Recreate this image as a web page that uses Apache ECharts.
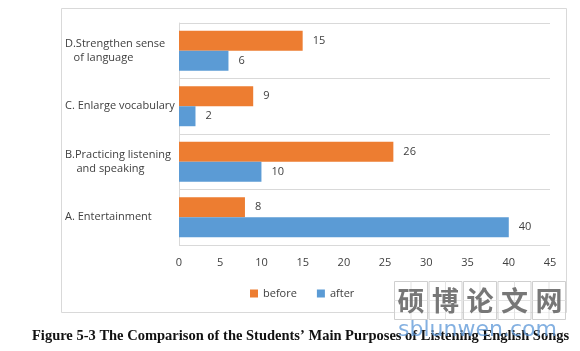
<!DOCTYPE html>
<html>
<head>
<meta charset="utf-8">
<script src="https://cdn.jsdelivr.net/npm/echarts@6/dist/echarts.min.js"></script>
<style>
  html, body { margin: 0; padding: 0; background: #fff; }
  #chart { width: 580px; height: 351px; }
</style>
</head>
<body>
<div id="chart"></div>
<script>
// categories from bottom to top
const categories = [
  'A. Entertainment',
  'B.Practicing listening\n    and speaking',
  'C. Enlarge vocabulary',
  'D.Strengthen sense\n   of language',
];
const beforeValues = [8, 26, 9, 15];
const afterValues = [40, 10, 2, 6];
const caption = 'Figure 5-3 The Comparison of the Students\u2019 Main Purposes of Listening English Songs';
const watermarkChars = ['硕', '博', '论', '文', '网'];

const labelFont = { fontFamily: 'Open Sans', fontSize: 11, color: '#404040' };

const chart = echarts.init(document.getElementById('chart'));

const wmGraphics = watermarkChars.map((ch, i) => ({
  type: 'group',
  left: 392 + i * 34.5,
  top: 279,
  z: 100,
  children: [
    { type: 'rect', shape: { x: 0, y: 0, width: 33, height: 38 }, style: { fill: 'rgba(255,255,255,0.6)', stroke: '#cfcfcf', lineWidth: 1 } },
    { type: 'line', shape: { x1: 16.5, y1: 0, x2: 16.5, y2: 38 }, style: { stroke: '#e3e3e3', lineWidth: 1 } },
    { type: 'line', shape: { x1: 0, y1: 19, x2: 33, y2: 19 }, style: { stroke: '#e3e3e3', lineWidth: 1 } },
    { type: 'text', style: { x: 16.5, y: 19, text: ch, fill: '#777', font: 'bold 27px "Noto Sans CJK SC"', align: 'center', verticalAlign: 'middle' } },
  ],
}));

const option = {
  animation: false,
  backgroundColor: '#fff',
  grid: { left: 179, right: 30, top: 23, bottom: 106 },
  legend: {
    data: ['before', 'after'],
    left: 245,
    top: 283,
    itemWidth: 8,
    itemHeight: 8,
    itemGap: 20,
    icon: 'rect',
    textStyle: labelFont,
  },
  xAxis: {
    type: 'value',
    min: 0,
    max: 45,
    interval: 5,
    axisLine: { show: false },
    axisTick: { show: false },
    splitLine: { show: false },
    axisLabel: Object.assign({ margin: 12 }, labelFont),
  },
  yAxis: {
    type: 'category',
    data: categories,
    axisLine: { show: true, lineStyle: { color: '#d9d9d9' } },
    axisTick: { show: false },
    splitLine: { show: true, lineStyle: { color: '#d9d9d9' } },
    axisLabel: Object.assign({ align: 'left', margin: 114, lineHeight: 14 }, labelFont),
  },
  series: [
    {
      name: 'before',
      type: 'bar',
      data: beforeValues,
      barCategoryGap: '28%',
      barGap: '0%',
      itemStyle: { color: '#ED7D31' },
      label: Object.assign({ show: true, position: 'right', distance: 10 }, labelFont),
    },
    {
      name: 'after',
      type: 'bar',
      data: afterValues,
      barCategoryGap: '28%',
      barGap: '0%',
      itemStyle: { color: '#5B9BD5' },
      label: Object.assign({ show: true, position: 'right', distance: 10 }, labelFont),
    },
  ],
  graphic: [
    {
      type: 'rect',
      left: 59,
      top: 6,
      z: -10,
      shape: { x: 0, y: 0, width: 505, height: 304 },
      style: { fill: 'none', stroke: '#d9d9d9', lineWidth: 1 },
    },
    {
      type: 'text',
      left: 32,
      top: 329,
      style: { text: caption, fill: '#111', font: 'bold 14.5px "Liberation Serif"' },
    },
  ].concat(wmGraphics, [
    {
      type: 'text',
      left: 398,
      top: 319,
      z: 101,
      style: { text: 'sblunwen.com', fill: 'rgba(90,150,215,0.75)', font: '22px "DejaVu Sans"' },
    },
  ]),
};

chart.setOption(option);
</script>
</body>
</html>
